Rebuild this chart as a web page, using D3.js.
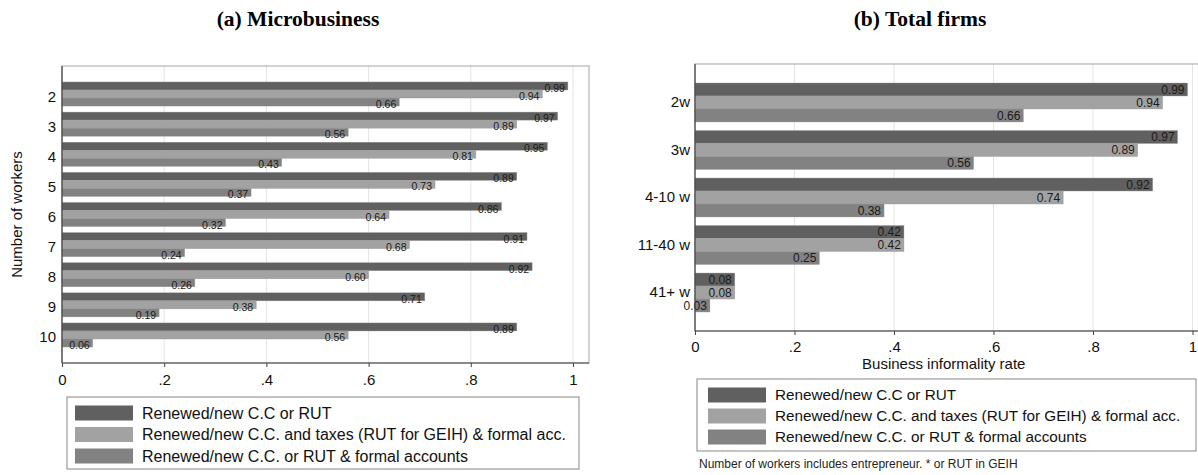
<!DOCTYPE html>
<html>
<head>
<meta charset="utf-8">
<script src="https://cdn.jsdelivr.net/npm/d3@7"></script>
<style>
  body { margin: 0; background: #fff; }
  svg { display: block; font-family: "Liberation Sans", Arial, sans-serif; }
</style>
</head>
<body>
<svg id="chart" width="1198" height="475"></svg>
<script>
// ---- data ----
var seriesNames = ["Renewed/new C.C or RUT",
  "Renewed/new C.C. and taxes (RUT for GEIH) & formal acc.",
  "Renewed/new C.C. or RUT & formal accounts"];
var seriesColors = ["#606060", "#a2a2a2", "#828282"];

var microCats = ["2", "3", "4", "5", "6", "7", "8", "9", "10"];
var microRut = [0.99, 0.97, 0.95, 0.89, 0.86, 0.91, 0.92, 0.71, 0.89];
var microTaxes = [0.94, 0.89, 0.81, 0.73, 0.64, 0.68, 0.60, 0.38, 0.56];
var microAcc = [0.66, 0.56, 0.43, 0.37, 0.32, 0.24, 0.26, 0.19, 0.06];

var firmCats = ["2w", "3w", "4-10 w", "11-40 w", "41+ w"];
var firmRut = [0.99, 0.97, 0.92, 0.42, 0.08];
var firmTaxes = [0.94, 0.89, 0.74, 0.42, 0.08];
var firmAcc = [0.66, 0.56, 0.38, 0.25, 0.03];

var xTicks = [0, 0.2, 0.4, 0.6, 0.8, 1];
var tickFmt = function (d) { return d === 0 ? "0" : d === 1 ? "1" : String(d).replace(/^0/, ""); };

var svg = d3.select("#chart");

// draws one panel
function panel(opt) {
  var g = svg.append("g");
  var x = d3.scaleLinear().domain([0, 1]).range([opt.x0, opt.x1]);
  var y = d3.scaleBand().domain(opt.cats).range([opt.top, opt.bottom])
    .paddingInner(opt.padIn).paddingOuter(opt.padOut);
  var ySub = d3.scaleBand().domain([0, 1, 2]).range([0, y.bandwidth()]);

  // title
  g.append("text")
    .attr("x", opt.titleX).attr("y", 26)
    .attr("text-anchor", "middle")
    .style("font-family", "'Liberation Serif', 'Times New Roman', serif")
    .style("font-weight", "bold").style("font-size", "21.5px")
    .text(opt.title);

  // grid
  g.selectAll(".grid").data(xTicks.slice(1)).enter().append("line")
    .attr("x1", function (d) { return x(d); }).attr("x2", function (d) { return x(d); })
    .attr("y1", opt.top).attr("y2", opt.bottom)
    .attr("stroke", "#e4e4e4").attr("stroke-width", 1);

  // frame
  g.append("rect")
    .attr("x", opt.x0).attr("y", opt.top)
    .attr("width", opt.frameRight - opt.x0).attr("height", opt.bottom - opt.top)
    .attr("fill", "none").attr("stroke", "#b4b4b4").attr("stroke-width", 1.2);

  // bars
  var rows = [];
  opt.cats.forEach(function (c, i) {
    opt.series.forEach(function (s, j) {
      rows.push({ cat: c, k: j, v: s[i] });
    });
  });
  var bars = g.selectAll(".bar").data(rows).enter().append("g");
  bars.append("rect")
    .attr("x", x(0))
    .attr("y", function (d) { return y(d.cat) + ySub(d.k); })
    .attr("width", function (d) { return x(d.v) - x(0); })
    .attr("height", ySub.bandwidth())
    .attr("fill", function (d) { return seriesColors[d.k]; })
    .attr("stroke", "#9a9a9a").attr("stroke-width", 0.4);
  bars.append("text")
    .attr("x", function (d) { return x(d.v) - 3; })
    .attr("y", function (d) { return y(d.cat) + ySub(d.k) + ySub.bandwidth() * opt.labelPos; })
    .attr("dy", "0.35em")
    .attr("text-anchor", "end")
    .style("font-size", opt.valFont).style("fill", "#1a1a1a")
    .text(function (d) { return d.v.toFixed(2); });

  // axes
  var xAxis = g.append("g").attr("transform", "translate(0," + opt.bottom + ")")
    .call(d3.axisBottom(x).tickValues(xTicks).tickFormat(tickFmt).tickSize(4).tickPadding(opt.xPad));
  xAxis.select(".domain").remove();
  xAxis.append("line").attr("x1", opt.x0).attr("x2", opt.frameRight)
    .attr("stroke", "#444").attr("stroke-width", 1.2);
  xAxis.selectAll(".tick line").attr("stroke", "#444");
  xAxis.selectAll(".tick text").style("font-size", "15px").style("fill", "#111")
    .style("font-family", "'Liberation Sans', Arial, sans-serif");

  var yAxis = g.append("g").attr("transform", "translate(" + opt.x0 + ",0)")
    .call(d3.axisLeft(y).tickSize(0).tickPadding(opt.yPad));
  yAxis.select(".domain").remove();
  yAxis.append("line").attr("y1", opt.top).attr("y2", opt.bottom)
    .attr("stroke", "#444").attr("stroke-width", 1.2);
  yAxis.selectAll(".tick text").style("font-size", "15px").style("fill", "#111")
    .style("font-family", "'Liberation Sans', Arial, sans-serif")
    .attr("dy", opt.yDy);

  if (opt.yTitle) {
    g.append("text")
      .attr("transform", "translate(" + opt.yTitleX + "," + ((opt.top + opt.bottom) / 2) + ") rotate(-90)")
      .attr("dy", "0.35em")
      .attr("text-anchor", "middle").style("font-size", "15px").style("fill", "#111")
      .text(opt.yTitle);
  }
  if (opt.xTitle) {
    g.append("text")
      .attr("x", (opt.x0 + x(1)) / 2).attr("y", opt.xTitleY)
      .attr("dy", "0.35em")
      .attr("text-anchor", "middle").style("font-size", "15px").style("fill", "#111")
      .text(opt.xTitle);
  }

  // legend
  var L = opt.legend;
  g.append("rect")
    .attr("x", L.x).attr("y", L.y).attr("width", L.w).attr("height", L.h)
    .attr("fill", "#fff").attr("stroke", "#888").attr("stroke-width", 1);
  var items = g.selectAll(".leg").data(seriesNames).enter().append("g")
    .attr("transform", function (d, i) { return "translate(" + (L.x + L.sw) + "," + (L.y + L.first + i * L.step) + ")"; });
  items.append("rect")
    .attr("x", 0).attr("y", -7.5).attr("width", 58).attr("height", 15)
    .attr("fill", function (d, i) { return seriesColors[i]; });
  items.append("text")
    .attr("x", 67).attr("dy", "0.35em")
    .style("font-size", L.font).style("fill", "#111")
    .text(function (d) { return d; });
}

panel({
  title: "(a) Microbusiness", titleX: 298,
  cats: microCats, series: [microRut, microTaxes, microAcc],
  x0: 62, x1: 573, frameRight: 589, top: 66, bottom: 363,
  padIn: 0.2, padOut: 0.53, labelPos: 0.8, valFont: "10.5px",
  xPad: 7, yPad: 6, yDy: "0.5em", yTitle: "Number of workers", yTitleX: 17,
  legend: { x: 67, y: 397, w: 512, h: 72, sw: 8, first: 16, step: 21.5, font: "16px" }
});

panel({
  title: "(b) Total firms", titleX: 920,
  cats: firmCats, series: [firmRut, firmTaxes, firmAcc],
  x0: 695, x1: 1192.5, frameRight: 1215, top: 64, bottom: 331,
  padIn: 0.18, padOut: 0.4, labelPos: 0.5, valFont: "12px",
  xPad: 6.5, yPad: 5, yDy: "0.32em", xTitle: "Business informality rate", xTitleY: 364,
  legend: { x: 697, y: 379, w: 499, h: 72, sw: 11, first: 16, step: 21, font: "15.3px" }
});

svg.append("text")
  .attr("x", 699).attr("y", 464).attr("dy", "0.35em")
  .style("font-size", "12px").style("fill", "#222")
  .text("Number of workers includes entrepreneur. * or RUT in GEIH");
</script>
</body>
</html>
